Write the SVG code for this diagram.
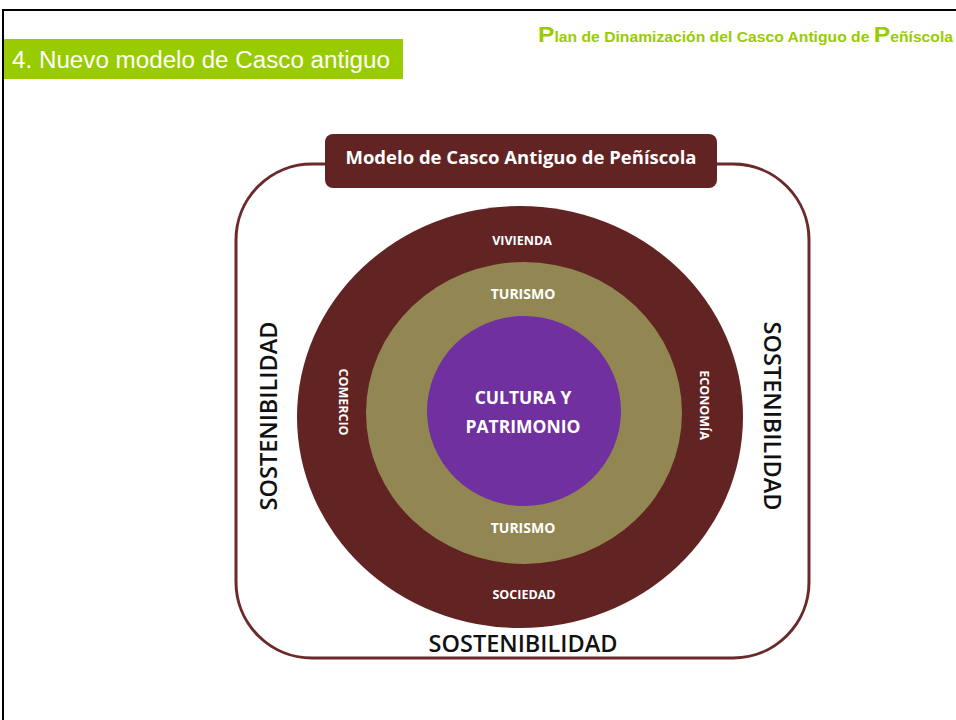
<svg xmlns="http://www.w3.org/2000/svg" width="956" height="720" viewBox="0 0 956 720">
<style>
.cal{font-family:"Open Sans","Noto Sans","Liberation Sans",sans-serif;font-weight:bold;text-anchor:middle}
.w{fill:#ffffff}
.ring{font-size:12.5px}
.sost{font-size:23.5px;fill:#111111;font-weight:600}
.hdr{font-family:"Liberation Sans",Arial,sans-serif}
</style>
<rect width="956" height="720" fill="#ffffff"/>
<g id="frame">
<path d="M3 720 V10 H956" fill="none" stroke="#000" stroke-width="2"/>
</g>
<g id="header">
<rect x="4" y="39" width="399" height="40" fill="#99cc00"/>
<text class="hdr" x="12" y="68" font-size="23" fill="#fff" textLength="378" lengthAdjust="spacingAndGlyphs">4. Nuevo modelo de Casco antiguo</text>
<text class="hdr" x="538" y="42" font-size="14" font-weight="bold" fill="#99cc00" textLength="415" lengthAdjust="spacingAndGlyphs"><tspan font-size="22">P</tspan>lan de Dinamización del Casco Antiguo de <tspan font-size="22">P</tspan>eñíscola</text>
</g>
<g id="container">
<rect x="236" y="164" width="573" height="494" rx="76" ry="76" fill="none" stroke="#6b2a2a" stroke-width="3"/>
</g>
<g id="title-box">
<rect x="325" y="134" width="392" height="54" rx="8" ry="8" fill="#622323"/>
<text class="cal w" x="521" y="164" font-size="18.5">Modelo de Casco Antiguo de Peñíscola</text>
</g>
<g id="outer-ring">
<ellipse cx="520" cy="417" rx="223" ry="211" fill="#622323"/>
<text class="cal w ring" x="522" y="245">VIVIENDA</text>
<text class="cal w ring" x="524" y="599">SOCIEDAD</text>
<text class="cal w ring" transform="translate(339 402) rotate(90)">COMERCIO</text>
<text class="cal w ring" transform="translate(700 405) rotate(90)">ECONOMÍA</text>
</g>
<g id="middle-ring">
<ellipse cx="524" cy="413" rx="158" ry="151" fill="#928752"/>
<text class="cal w" x="523" y="299" font-size="14">TURISMO</text>
<text class="cal w" x="523" y="533" font-size="14">TURISMO</text>
</g>
<g id="core">
<ellipse cx="524" cy="411" rx="97" ry="95" fill="#7030a0"/>
<text class="cal w" x="523" y="404" font-size="17.5">CULTURA Y</text>
<text class="cal w" x="523" y="433" font-size="17.5">PATRIMONIO</text>
</g>
<g id="sostenibilidad">
<text class="cal sost" transform="translate(277 416) rotate(-90)">SOSTENIBILIDAD</text>
<text class="cal sost" transform="translate(764 416) rotate(90)">SOSTENIBILIDAD</text>
<text class="cal sost" x="523" y="652">SOSTENIBILIDAD</text>
</g>
</svg>
